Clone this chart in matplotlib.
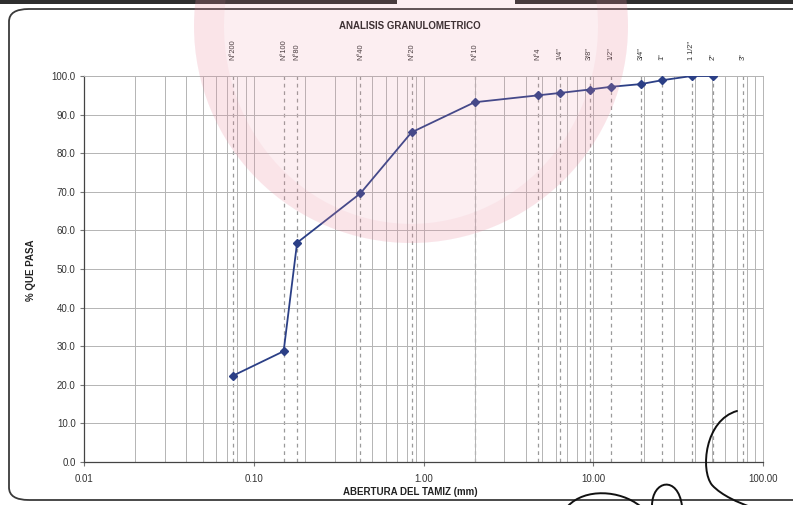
import numpy as np
import matplotlib
matplotlib.use("Agg")
import matplotlib.pyplot as plt
from matplotlib.patches import FancyBboxPatch, Rectangle, Annulus, Ellipse, PathPatch
from matplotlib.path import Path
from matplotlib.ticker import FixedLocator, NullFormatter

plt.rcParams['font.family'] = ['Liberation Sans', 'DejaVu Sans']

# Sieve openings (mm) and their names
sieve_names = ["N°200", "N°100", "N°80", "N°40", "N°20", "N°10", "N°4",
               "1/4\"", "3/8\"", "1/2\"", "3/4\"", "1\"", "1 1/2\"", "2\"", "3\""]
sieve_mm = [0.075, 0.15, 0.18, 0.425, 0.85, 2.0, 4.75,
            6.35, 9.525, 12.7, 19.05, 25.4, 38.1, 50.8, 76.2]

# Grading curve: percentage passing at each sieve
curve_mm = [0.075, 0.15, 0.18, 0.425, 0.85, 2.0, 4.75,
            6.35, 9.525, 12.7, 19.05, 25.4, 38.1, 50.8]
pct_passing = [22.3, 28.7, 56.8, 69.6, 85.4, 93.2, 95.0,
               95.6, 96.5, 97.2, 97.9, 98.9, 100.0, 100.0]

x_ticks = [0.01, 0.1, 1, 10, 100]
x_tick_labels = ["0.01", "0.10", "1.00", "10.00", "100.00"]
y_ticks = list(range(0, 101, 10))

W, H = 793, 505
fig = plt.figure(figsize=(W / 100, H / 100), dpi=100)
fig.patch.set_facecolor("white")

def fx(px):
    return px / W

def fy(py):
    return 1 - py / H

# Rounded chart frame
frame = FancyBboxPatch((fx(9), fy(500)), fx(830) - fx(9), fy(9) - fy(500),
                       boxstyle="round,pad=0,rounding_size=0.025",
                       transform=fig.transFigure, fill=False,
                       edgecolor="#3a3a3a", linewidth=1.3, zorder=1)
fig.patches.append(frame)

# Dark page edge at the top
for x0, x1 in [(0, 397), (515, 793)]:
    fig.patches.append(Rectangle((fx(x0), fy(3.5)), fx(x1) - fx(x0), 3.5 / H,
                                 transform=fig.transFigure, facecolor="#2e2e2e",
                                 edgecolor="none", zorder=1))

ax = fig.add_axes([fx(84), fy(462), fx(763) - fx(84), fy(76) - fy(462)])
ax.set_facecolor("none")
ax.set_xscale("log")
ax.set_xlim(0.01, 100)
ax.set_ylim(0, 100)

# Minor/major vertical grid
minor = [m * 10.0 ** e for e in range(-2, 2) for m in range(2, 10)]
ax.xaxis.set_minor_locator(FixedLocator(minor))
ax.xaxis.set_minor_formatter(NullFormatter())
ax.set_xticks(x_ticks)
ax.set_xticklabels(x_tick_labels)
ax.set_yticks(y_ticks)
ax.set_yticklabels([f"{v:.1f}" for v in y_ticks])
ax.grid(True, which="both", axis="x", color="#b4b4b4", linewidth=0.7)
ax.grid(True, which="major", axis="y", color="#b4b4b4", linewidth=0.7)
ax.tick_params(axis="x", which="minor", length=0)
ax.tick_params(axis="both", which="major", length=3, color="#777777",
               labelsize=7, labelcolor="#333333", pad=3)
ax.tick_params(axis="x", which="major", pad=6)

# Dashed sieve lines
for d in sieve_mm:
    ax.axvline(d, color="#9a9a9a", linewidth=0.9, linestyle=(0, (3, 3)), zorder=1.5)

for s in ["top", "right"]:
    ax.spines[s].set_color("#b4b4b4")
    ax.spines[s].set_linewidth(0.7)
for s in ["left", "bottom"]:
    ax.spines[s].set_color("#444444")
    ax.spines[s].set_linewidth(0.9)

ax.plot(curve_mm, pct_passing, color="#2b3f86", linewidth=1.3, marker="D",
        markersize=4.5, markerfacecolor="#2b3f86", markeredgecolor="#2b3f86", zorder=3)

# Sieve names above the plot
label_y = 1.0 + 16 / (462 - 76)
for name, d in zip(sieve_names, sieve_mm):
    ax.text(d, label_y, name, transform=ax.get_xaxis_transform(), rotation=90,
            ha="center", va="bottom", fontsize=5.3, color="#333333")

fig.text(fx(410), fy(26), "ANALISIS GRANULOMETRICO", ha="center", va="center",
         fontsize=7, fontweight="bold", color="#222222")
fig.text(fx(410), fy(492), "ABERTURA DEL TAMIZ (mm)", ha="center", va="center",
         fontsize=7, fontweight="bold", color="#222222")
fig.text(fx(31), fy(270), "% QUE PASA", ha="center", va="center", rotation=90,
         fontsize=7, fontweight="bold", color="#222222")

# Faint red seal stamp overlay
seal_c = (fx(411), fy(26))
seal_color = (0.92, 0.55, 0.63)
fig.patches.append(Ellipse(seal_c, 2 * 217 / W, 2 * 217 / H, transform=fig.transFigure,
                           facecolor=seal_color, edgecolor="none", alpha=0.14, zorder=10))
fig.patches.append(Annulus(seal_c, (217 / W, 217 / H), 30 / W, transform=fig.transFigure,
                           facecolor=seal_color, edgecolor="none", alpha=0.10, zorder=10))

# Signature strokes
def stroke(pts, codes):
    verts = [(fx(x), fy(y)) for x, y in pts]
    p = PathPatch(Path(verts, codes), transform=fig.transFigure, fill=False,
                  edgecolor="#111111", linewidth=1.4, zorder=11, capstyle="round")
    fig.patches.append(p)

C = Path.CURVE4
stroke([(737, 411), (705, 420), (700, 470), (712, 485), (722, 496), (740, 503), (748, 506)],
       [Path.MOVETO, C, C, C, C, C, C])
stroke([(652, 506), (652, 480), (678, 475), (682, 506)],
       [Path.MOVETO, C, C, C])
stroke([(568, 506), (585, 488), (620, 490), (640, 506)],
       [Path.MOVETO, C, C, C])

fig.savefig("out.png", dpi=100, facecolor="white")
